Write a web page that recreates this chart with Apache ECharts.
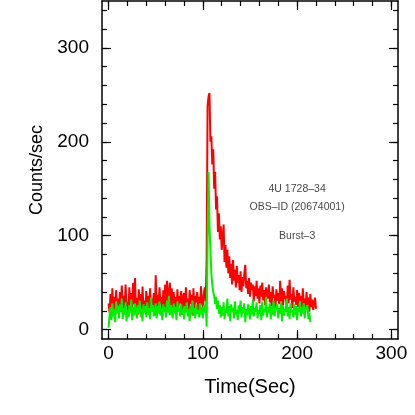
<!DOCTYPE html>
<html>
<head>
<meta charset="utf-8">
<script src="https://cdn.jsdelivr.net/npm/echarts@6/dist/echarts.min.js"></script>
<style>
html,body{margin:0;padding:0;background:#fff;}
#chart{width:415px;height:415px;}
</style>
</head>
<body>
<div id="chart"></div>
<script>
// Time bins (seconds), 1 s bins starting at t = 0
const binWidthSec = 1;

// Red light curve (counts/sec), t = 0 .. 220 s
const redCounts = [
  28,18,38,22,44,20,35,15,42,26,33,19,40,24,47,21,36,17,48,25,
  30,14,45,23,39,18,50,27,55,20,34,16,43,25,38,13,46,22,31,19,
  41,24,36,17,44,21,33,26,39,15,58,22,37,19,45,27,35,14,42,23,
  48,20,52,26,38,50,24,44,18,40,25,35,17,43,22,36,28,41,16,34,
  39,21,45,24,33,18,42,27,37,15,44,22,36,29,40,17,35,25,46,30,
  24,38,45,30,75,238,248,252,200,206,176,192,150,168,128,142,104,124,96,110,
  85,98,112,72,90,66,85,60,78,55,70,48,74,52,64,45,68,50,58,42,
  62,40,56,46,60,69,44,52,38,55,35,50,42,48,30,46,36,52,33,44,
  28,47,35,50,31,42,26,45,38,33,48,29,40,24,46,34,37,22,43,31,
  39,27,52,30,44,25,41,33,36,21,47,28,53,32,38,23,45,30,35,26,
  42,24,39,31,36,20,44,28,33,22,40,26,34,19,38,24,32,21,28,34,22
];

// Green light curve (counts/sec), t = 0 .. 214 s
const greenCounts = [
  2,15,24,10,28,14,22,8,30,17,25,12,27,19,33,11,23,16,29,9,
  21,13,26,18,32,10,24,15,28,20,12,26,17,31,14,22,9,27,18,25,
  13,29,16,23,11,34,19,26,14,21,28,12,25,17,30,15,22,10,27,19,
  24,13,31,18,36,15,26,20,12,28,17,24,10,30,19,23,14,27,16,21,
  11,25,18,29,14,22,9,26,19,31,15,23,12,27,17,21,13,28,16,24,
  12,26,18,30,3,90,168,112,85,60,48,40,36,27,35,22,31,17,26,13,
  24,15,29,11,22,18,33,14,25,9,27,19,23,12,30,16,21,10,26,17,
  31,13,24,18,28,8,22,15,27,20,11,25,16,32,14,23,19,29,12,21,
  17,26,10,30,15,22,19,35,13,24,18,28,11,25,16,31,14,21,20,27,
  12,23,17,29,9,26,15,22,19,33,14,24,11,28,18,21,13,27,16,25,
  10,23,19,30,14,24,17,28,12,22,20,26,11,18,8
];

// Tick labels / tick positions
const xMajorTicks = [0, 100, 200, 300];
const xMinorTicks = [0,20,40,60,80,100,120,140,160,180,200,220,240,260,280,300];
const yMajorTicks = [0, 100, 200, 300];
const yMinorTicks = [0,20,40,60,80,100,120,140,160,180,200,220,240,260,280,300,320,340];

// Annotation text and positions (data coords)
const annotationText = ['4U 1728\u201334', 'OBS\u2013ID (20674001)', 'Burst\u20133'];
const annotationX = [200, 200, 200];
const annotationY = [150, 130, 100];

const FONT = 'Liberation Sans';
const toXY = arr => arr.map((v, i) => [i * binWidthSec, v]);

function xAx(pos, ticks, len, showLine, showLabel, extra) {
  return Object.assign({
    type: 'value', position: pos, min: -7, max: 307,
    axisLine: { show: showLine, onZero: false, lineStyle: { color: '#000', width: 1.5 } },
    axisTick: { show: true, inside: true, length: len, customValues: ticks, lineStyle: { color: '#000', width: 1.2 } },
    axisLabel: { show: showLabel, customValues: xMajorTicks, color: '#000', fontFamily: FONT, fontSize: 19, margin: 5 },
    splitLine: { show: false }
  }, extra || {});
}
function yAx(pos, ticks, len, showLine, showLabel, extra) {
  return Object.assign({
    type: 'value', position: pos, min: -10, max: 350,
    axisLine: { show: showLine, onZero: false, lineStyle: { color: '#000', width: 1.5 } },
    axisTick: { show: true, inside: true, length: len, customValues: ticks, lineStyle: { color: '#000', width: 1.2 } },
    axisLabel: { show: showLabel, customValues: yMajorTicks, color: '#000', fontFamily: FONT, fontSize: 19, margin: 13 },
    splitLine: { show: false }
  }, extra || {});
}

const chart = echarts.init(document.getElementById('chart'), null, { renderer: 'canvas' });
chart.setOption({
  animation: false,
  backgroundColor: '#fff',
  grid: { left: 102, right: 17, top: 1, bottom: 76, containLabel: false },
  xAxis: [
    xAx('bottom', xMajorTicks, 9, true, true, {
      name: 'Time(Sec)', nameLocation: 'middle', nameGap: 38,
      nameTextStyle: { color: '#000', fontFamily: FONT, fontSize: 20 }
    }),
    xAx('bottom', xMinorTicks, 5, false, false),
    xAx('top', xMajorTicks, 9, true, false),
    xAx('top', xMinorTicks, 5, false, false)
  ],
  yAxis: [
    yAx('left', yMajorTicks, 9, true, true, {
      name: 'Counts/sec', nameLocation: 'middle', nameGap: 51,
      nameTextStyle: { color: '#000', fontFamily: FONT, fontSize: 18 }
    }),
    yAx('left', yMinorTicks, 5, false, false),
    yAx('right', yMajorTicks, 9, true, false),
    yAx('right', yMinorTicks, 5, false, false)
  ],
  series: [
    {
      type: 'line', xAxisIndex: 0, yAxisIndex: 0, data: toXY(redCounts),
      showSymbol: false, symbol: 'none', lineStyle: { color: '#ff0000', width: 2 }, z: 2
    },
    {
      type: 'line', xAxisIndex: 0, yAxisIndex: 0, data: toXY(greenCounts),
      showSymbol: false, symbol: 'none', lineStyle: { color: '#00ee00', width: 2 }, z: 3
    },
    {
      type: 'scatter', xAxisIndex: 0, yAxisIndex: 0, symbolSize: 0, silent: true,
      data: annotationText.map((t, i) => ({ value: [annotationX[i], annotationY[i]], name: t })),
      label: { show: true, position: 'inside', formatter: p => p.name, color: '#111', fontFamily: FONT, fontSize: 10.5 },
      z: 4
    }
  ]
});
</script>
</body>
</html>
